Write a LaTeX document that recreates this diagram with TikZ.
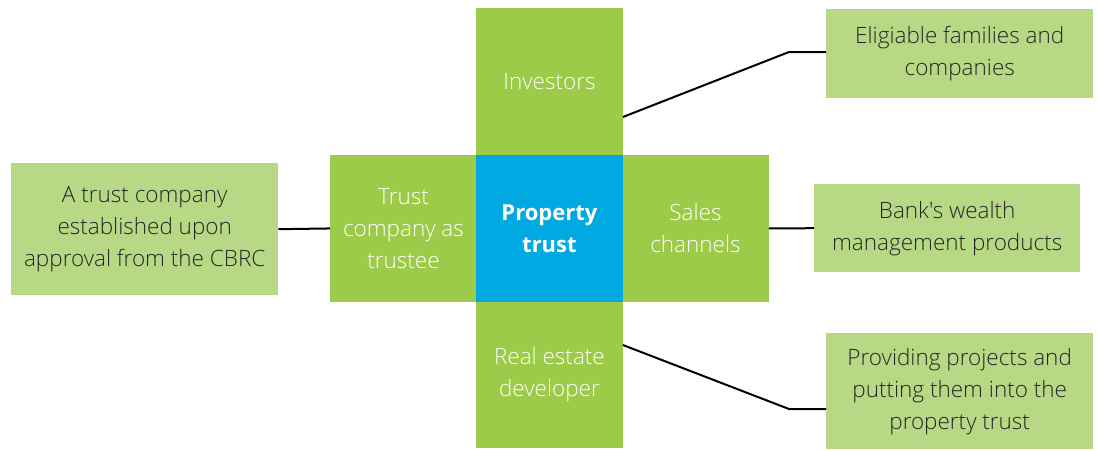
\documentclass[tikz,border=0pt]{standalone}
\usepackage{fontspec}
\setmainfont{Open Sans}
\newfontfamily\lightfont{Open Sans Light}
\definecolor{dgreen}{HTML}{9CCB4A}
\definecolor{lgreen}{HTML}{B7D985}
\definecolor{cblue}{HTML}{00A9E2}
\begin{document}
\begin{tikzpicture}[x=1pt,y=-1pt,
  inner/.style={fill=dgreen,minimum width=146.5pt,minimum height=146.5pt,inner sep=0pt,text=white,align=center,font=\lightfont\fontsize{22.5}{32}\selectfont,anchor=north west},
  outer/.style={fill=lgreen,inner sep=0pt,text=black!85,align=center,font=\lightfont\fontsize{22.5}{32}\selectfont,anchor=north west},
  conn/.style={draw=black,line width=2pt}]
\useasboundingbox (0,0) rectangle (1098,450);
\node[inner] (inv) at (476,8) {Investors};
\node[inner] (tc) at (330,155) {Trust\\company as\\trustee};
\node[inner] (sc) at (622,155) {Sales\\channels};
\node[inner] (red) at (476,301.5) {Real estate\\developer};
\node[inner,fill=cblue,font=\bfseries\fontsize{22}{32}\selectfont] (pt) at (476,155) {Property\\trust};
\node[outer,minimum width=267pt,minimum height=132pt] (lb) at (11,163) {A trust company\\established upon\\approval from the CBRC};
\node[outer,minimum width=267pt,minimum height=89pt] (tr) at (826,9) {Eligiable families and\\companies};
\node[outer,minimum width=266pt,minimum height=88pt] (mr) at (814,184) {Bank's wealth\\management products};
\node[outer,minimum width=267pt,minimum height=116pt] (br) at (826,333) {Providing projects and\\putting them into the\\property trust};
\coordinate (k1) at (789,52);
\coordinate (k2) at (789,409);
\draw[conn] (lb.east) -- (tc.west);
\draw[conn] (sc.east) -- (mr.west);
\draw[conn] (inv.east |- 0,117) -- (k1) -- (tr.west |- k1);
\draw[conn] (red.east |- 0,345) -- (k2) -- (br.west |- k2);
\end{tikzpicture}
\end{document}
